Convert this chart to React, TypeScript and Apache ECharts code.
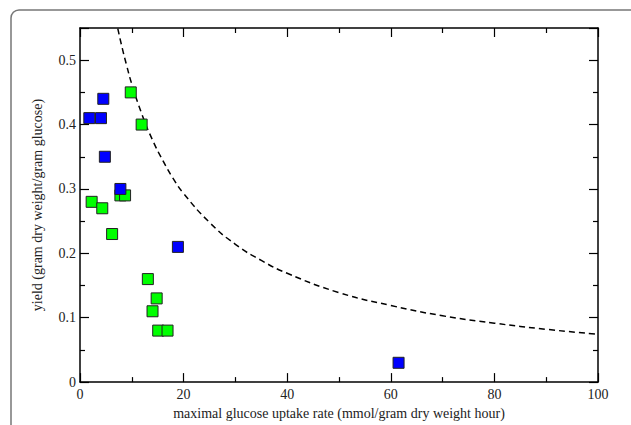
import React, { useEffect, useRef } from "react";
import * as echarts from "echarts";

const xTitle = "maximal glucose uptake rate (mmol/gram dry weight hour)";
const yTitle = "yield (gram dry weight/gram glucose)";

const blueX = [1.8, 4.05, 4.5, 4.8, 7.8, 18.9, 61.5];
const blueY = [0.41, 0.41, 0.44, 0.35, 0.30, 0.21, 0.03];

const greenX = [9.8, 11.9, 7.8, 8.7, 2.25, 4.3, 6.2, 13.1, 14.8, 14.0, 15.1, 16.9];
const greenY = [0.45, 0.40, 0.29, 0.29, 0.28, 0.27, 0.23, 0.16, 0.13, 0.11, 0.08, 0.08];

const curveX = [7.3, 8, 9, 10, 12, 14, 16, 18, 20, 25, 30, 35, 40, 50, 60, 70, 80, 90, 100];
const curveY = [0.549, 0.524, 0.492, 0.463, 0.415, 0.376, 0.344, 0.316, 0.293, 0.248, 0.214, 0.189, 0.169, 0.139, 0.119, 0.103, 0.0915, 0.082, 0.0744];

const xTicks = [0, 20, 40, 60, 80, 100];

const zip = (xs: number[], ys: number[]) => xs.map((x, i) => [x, ys[i]]);

export default function App() {
  const ref = useRef<HTMLDivElement>(null);
  useEffect(() => {
    document.body.style.margin = "0";
    if (!ref.current) return;
    const chart = echarts.init(ref.current, null, { renderer: "svg" });
    const font = "Liberation Serif";
    const axisLine = { show: true, onZero: false, lineStyle: { color: "#000", width: 1.5 } };
    const tick = { show: true, inside: true, length: 9, lineStyle: { color: "#000", width: 1.2 } };
    const minor = { show: true, splitNumber: 2, length: 5, lineStyle: { color: "#000", width: 1.2 } };
    chart.setOption({
      animation: false,
      backgroundColor: "#fff",
      grid: { left: 80, right: 33, top: 28, bottom: 35, containLabel: false },
      graphic: [
        {
          type: "rect",
          shape: { x: 11, y: 10, width: 700, height: 500, r: 8 },
          style: { fill: "none", stroke: "#777", lineWidth: 1.5 },
          silent: true,
          z: -10,
        },
      ],
      xAxis: [
        {
          type: "value",
          min: 0,
          max: 100,
          interval: 20,
          position: "bottom",
          name: xTitle,
          nameLocation: "middle",
          nameGap: 21,
          nameTextStyle: { fontFamily: font, fontSize: 14, color: "#222" },
          axisLine,
          axisTick: tick,
          minorTick: minor,
          splitLine: { show: false },
          axisLabel: {
            fontFamily: font,
            fontSize: 14,
            color: "#222",
            margin: 5,
            formatter: (v: number) => (xTicks.includes(v) ? String(v) : ""),
          },
        },
        {
          type: "value",
          min: 0,
          max: 100,
          interval: 20,
          position: "top",
          axisLine,
          axisTick: tick,
          minorTick: minor,
          splitLine: { show: false },
          axisLabel: { show: false },
        },
      ],
      yAxis: [
        {
          type: "value",
          min: 0,
          max: 0.55,
          interval: 0.1,
          position: "left",
          name: yTitle,
          nameLocation: "middle",
          nameGap: 36,
          nameTextStyle: { fontFamily: font, fontSize: 14, color: "#222" },
          axisLine,
          axisTick: tick,
          minorTick: minor,
          splitLine: { show: false },
          axisLabel: {
            fontFamily: font,
            fontSize: 14,
            color: "#222",
            margin: 4,
            showMaxLabel: false,
            formatter: (v: number) => (v === 0 ? "0" : String(Math.round(v * 10) / 10)),
          },
        },
        {
          type: "value",
          min: 0,
          max: 0.55,
          interval: 0.1,
          position: "right",
          axisLine,
          axisTick: tick,
          minorTick: minor,
          splitLine: { show: false },
          axisLabel: { show: false },
        },
      ],
      series: [
        {
          type: "line",
          data: zip(curveX, curveY),
          smooth: true,
          showSymbol: false,
          symbol: "none",
          lineStyle: { color: "#000", width: 1.5, type: [6, 4] },
          z: 2,
        },
        {
          type: "scatter",
          data: zip(greenX, greenY),
          symbol: "rect",
          symbolSize: 11,
          itemStyle: { color: "#00ff00", borderColor: "#222", borderWidth: 1, opacity: 1 },
          z: 3,
        },
        {
          type: "scatter",
          data: zip(blueX, blueY),
          symbol: "rect",
          symbolSize: 11,
          itemStyle: { color: "#0000ff", borderColor: "#222", borderWidth: 1, opacity: 1 },
          z: 4,
        },
      ],
    });
    return () => chart.dispose();
  }, []);
  return <div ref={ref} style={{ width: 631, height: 425 }} />;
}
